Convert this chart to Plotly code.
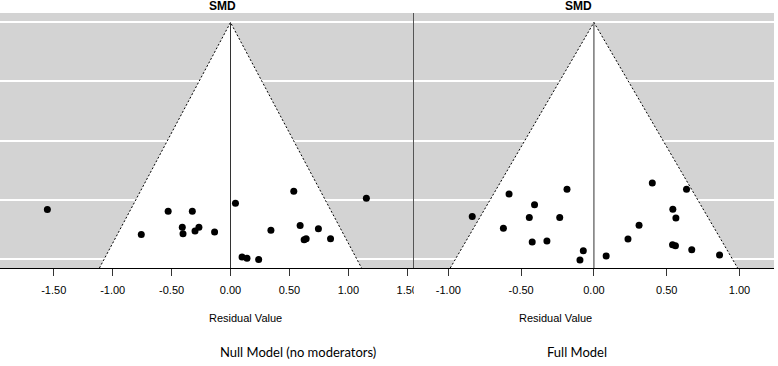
import plotly.graph_objects as go

# ---- data ----
null_resid = [-1.554, -0.757, -0.529, -0.324, -0.409, -0.403, -0.301, -0.268, -0.135, 0.042,
              0.098, 0.140, 0.239, 0.343, 0.537, 0.591, 0.746, 0.625, 0.642, 0.849, 1.153]
null_se = [0.432, 0.490, 0.436, 0.436, 0.473, 0.488, 0.482, 0.473, 0.484, 0.418,
           0.542, 0.545, 0.548, 0.480, 0.390, 0.469, 0.477, 0.502, 0.500, 0.500, 0.406]
full_resid = [-0.836, -0.583, -0.622, -0.408, -0.444, -0.424, -0.323, -0.235, -0.185, -0.073, -0.096,
              0.084, 0.234, 0.310, 0.401, 0.636, 0.542, 0.563, 0.540, 0.560, 0.672, 0.863]
full_se = [0.398, 0.352, 0.422, 0.374, 0.400, 0.450, 0.448, 0.400, 0.342, 0.468, 0.487,
           0.479, 0.444, 0.416, 0.329, 0.342, 0.383, 0.401, 0.456, 0.458, 0.466, 0.477]

null_max_se = 0.5456
full_max_se = 0.4842
x_ticks_null = [-1.5, -1.0, -0.5, 0.0, 0.5, 1.0, 1.5]
x_ticks_full = [-1.0, -0.5, 0.0, 0.5, 1.0]
panel_titles = ["SMD", "SMD"]
x_title = "Residual Value"
subtitles = ["Null Model (no moderators)", "Full Model"]

W, H = 778, 366
split = 416 / W
tick_font = dict(family="Liberation Sans, Arial, sans-serif", size=11, color="black")

fig = go.Figure()


def add_panel(resid, se, max_se, xa, ya):
    ext = 0.04 * max_se
    bottom = max_se + ext
    half = 1.96 * bottom
    # white funnel region
    fig.add_trace(go.Scatter(x=[-half, 0, half, -half], y=[bottom, 0, bottom, bottom],
                             fill="toself", fillcolor="white", mode="lines",
                             line=dict(width=0, color="white"), hoverinfo="skip",
                             xaxis=xa, yaxis=ya, showlegend=False))
    # dotted funnel sides
    fig.add_trace(go.Scatter(x=[-half, 0, half], y=[bottom, 0, bottom], mode="lines",
                             line=dict(color="black", width=1, dash="2px,2px"), hoverinfo="skip",
                             xaxis=xa, yaxis=ya, showlegend=False))
    # reference line
    fig.add_trace(go.Scatter(x=[0, 0], y=[0, bottom], mode="lines",
                             line=dict(color="#333333", width=1), hoverinfo="skip",
                             xaxis=xa, yaxis=ya, showlegend=False))
    # points
    fig.add_trace(go.Scatter(x=resid, y=se, mode="markers",
                             marker=dict(color="black", size=7), xaxis=xa, yaxis=ya,
                             showlegend=False))
    return bottom


b1 = add_panel(null_resid, null_se, null_max_se, "x", "y")
b2 = add_panel(full_resid, full_se, full_max_se, "x2", "y2")

grid1 = [null_max_se * i / 4 for i in range(5)]
grid2 = [full_max_se * i / 4 for i in range(5)]

common_x = dict(ticks="outside", ticklen=7, tickcolor="#333333", tickwidth=1,
                showline=True, linecolor="black", linewidth=1, showgrid=False,
                zeroline=False, tickfont=tick_font, fixedrange=True, ticklabelstandoff=5)
common_y = dict(showticklabels=False, ticks="", gridcolor="white", gridwidth=1.5,
                zeroline=False, fixedrange=True)

fig.update_layout(
    width=W, height=H, autosize=False,
    margin=dict(l=0, r=0, t=13, b=98),
    paper_bgcolor="white",
    plot_bgcolor="#d3d3d3",
    xaxis=dict(domain=[0, split], range=[-1.956, 1.556], anchor="y",
               tickvals=x_ticks_null, ticktext=[f"{v:.2f}" for v in x_ticks_null], **common_x),
    yaxis=dict(domain=[0, 1], range=[b1, -0.04 * null_max_se], anchor="x",
               tickvals=grid1, showline=False, **common_y),
    xaxis2=dict(domain=[split, 1], range=[-1.237, 1.237], anchor="y2",
                tickvals=x_ticks_full, ticktext=[f"{v:.2f}" for v in x_ticks_full], **common_x),
    yaxis2=dict(domain=[0, 1], range=[b2, -0.04 * full_max_se], anchor="x2",
                tickvals=grid2, showline=True, linecolor="#555555", linewidth=1, **common_y),
)

# clip the cut-off "1.50" label of the left panel like the reference
fig.add_shape(type="rect", xref="paper", yref="paper", x0=split, x1=split + 16 / W,
              y0=-0.05, y1=-0.14, fillcolor="white", line=dict(width=0), layer="above")

centers = [208 / W, 597 / W]
for i, c in enumerate(centers):
    fig.add_annotation(text=f"<b>{panel_titles[i]}</b>", xref="paper", yref="paper",
                       x=c, y=1, yanchor="bottom", yshift=-2, showarrow=False,
                       font=dict(family="Liberation Sans, Arial, sans-serif", size=12, color="black"))
    fig.add_annotation(text=x_title, xref="paper", yref="paper", x=c, y=-(318 - 268) / 255,
                       yanchor="middle", showarrow=False,
                       font=dict(family="Liberation Sans, Arial, sans-serif", size=11, color="black"))

sub_centers = [219 / W, 612 / W]
for i, c in enumerate(sub_centers):
    fig.add_annotation(text=subtitles[i], xref="paper", yref="paper", x=c, y=-(352 - 268) / 255,
                       yanchor="middle", showarrow=False,
                       font=dict(family="Lato, Open Sans, sans-serif", size=13, color="black"))

fig.write_html("out.html",
               config={"displayModeBar": False, "responsive": False},
               post_script="document.documentElement.style.margin='0';"
                           "document.body.style.margin='0';"
                           "document.body.style.overflow='hidden';")
